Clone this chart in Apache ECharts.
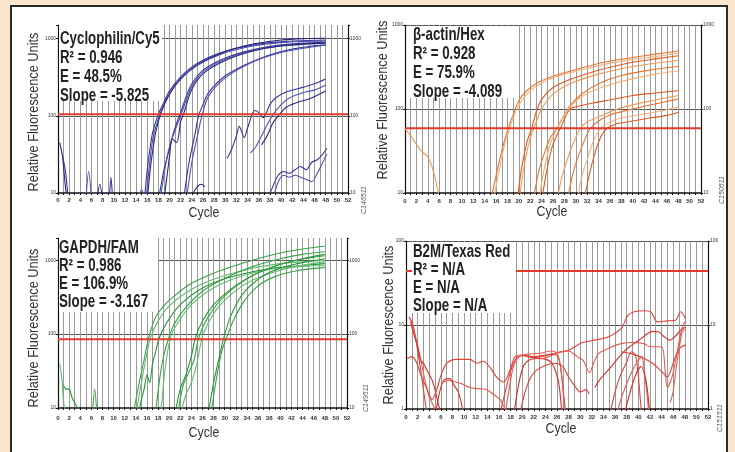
<!DOCTYPE html>
<html>
<head>
<meta charset="utf-8">
<script src="https://cdn.jsdelivr.net/npm/echarts@6/dist/echarts.min.js"></script>
<style>
  html, body { margin: 0; padding: 0; width: 735px; height: 452px; overflow: hidden; background: #fbe6d0; }
  .frame { position: absolute; left: 10px; top: 5px; width: 718px; height: 470px; box-sizing: border-box; border: 2px solid #2b2b2b; background: #fff; }
  #chart { position: absolute; left: 0; top: 0; width: 735px; height: 452px; }
</style>
</head>
<body>
<div class="frame"></div>
<div id="chart"></div>
<script>
// 每条曲线: [循环数, 相对荧光值]
const cyclophilinCurves = [
  [[15.5,8],[16,20],[16.5,38],[17,62],[18,105],[19,150],[20,210],[22,320],[25,480],[29,650],[35,830],[41,920],[48,960]],
  [[15.8,8],[16.3,20],[17,50],[18,92],[19,140],[20,195],[22,300],[25,450],[29,620],[35,800],[41,900],[48,930]],
  [[16,8],[16.6,22],[17.5,60],[18.5,110],[20,190],[22,300],[25,460],[30,680],[35,850],[40,960],[44,1000],[48,1010]],
  [[18,8],[19,20],[19.8,33],[20.7,60],[21.5,90],[22,110],[23,180],[24,260],[26,390],[30,560],[35,720],[40,830],[48,900]],
  [[18.3,8],[19.5,28],[20.2,45],[21,65],[22,100],[23,160],[24,240],[26,370],[30,540],[35,700],[40,810],[48,870]],
  [[19,8],[20,30],[20.5,50],[21.3,45],[22,85],[22.5,105],[24,220],[26,350],[30,520],[35,690],[40,800],[48,880]],
  [[22.5,8],[23.5,25],[24.5,55],[25.2,100],[26,140],[27,200],[30,330],[35,510],[40,680],[45,790],[48,830]],
  [[23,8],[24,25],[25,55],[25.8,100],[27,180],[30,310],[35,500],[40,660],[45,770],[48,820]],
  [[24,9],[24.6,11],[25.2,12.5],[25.8,13],[26.3,12]],
  [[30.3,28],[31,35],[32,55],[32.5,73],[33.4,52],[34,70],[35.3,117],[36,110],[36.8,95],[38,140],[39,170],[41,205],[44,235],[46,260],[48,300]],
  [[34.5,33],[35.5,40],[36.5,55],[38.3,97],[40,140],[41.5,170],[44,200],[46,215],[48,250]],
  [[36.5,42],[37.5,55],[38.5,80],[39.5,100],[41,130],[43,150],[45,165],[48,210]],
  [[37.5,8],[38.5,12],[39.5,17],[40.5,19],[41.5,18],[42.5,20],[43.5,22],[44.5,20],[45.5,25],[46.5,27],[47.5,32],[48.2,38]],
  [[38.5,8],[39.5,14],[40.5,17],[41.5,16],[42.5,17],[43.5,16],[44.5,15],[45.5,14],[46.5,18],[47.5,25],[48.2,32]],
  [[0.3,45],[0.8,30],[1.2,15],[1.6,8]],
  [[0.8,30],[1.3,20],[1.8,9]],
  [[5,8],[5.5,19],[6,8]],
  [[7,8],[7.5,13],[8,8]],
  [[9.2,8],[9.5,16],[9.8,8]],
  [[14.5,9],[15,11],[15.5,9]]
]

const actinCurves = [
  [[0,58],[1,48],[2,38],[3,31],[4,27],[5,18],[6,9]],
  [[15,8],[16,16],[17,32],[18,55],[19,85],[20,125],[21,155],[23,200],[26,245],[30,295],[35,360],[40,410],[44,450],[48,490]],
  [[15.5,8],[16.5,18],[17.5,38],[18.5,62],[19.5,95],[21,140],[23,185],[26,235],[30,280],[35,340],[40,390],[44,420],[48,460]],
  [[19.7,8],[20.5,20],[21.5,42],[22.3,60],[23,90],[24,130],[26,180],[29,225],[34,290],[40,360],[44,395],[48,430]],
  [[20,8],[21,22],[22,45],[23,68],[24,100],[26,150],[29,200],[34,260],[40,320],[44,350],[48,380]],
  [[22.5,8],[23.5,18],[24.5,30],[25.5,45],[26.7,59],[28,85],[29,110],[31,150],[34,200],[38,250],[43,290],[48,320]],
  [[23.5,8],[24.5,20],[25.5,38],[26.5,55],[27.5,75],[29,105],[31,140],[35,185],[40,230],[44,260],[48,285]],
  [[24,8],[25,20],[26,38],[27.3,59],[29,100],[31,110],[33,118],[36,128],[40,145],[44,155],[48,165]],
  [[26.7,8],[27.5,15],[28.5,25],[29.5,38],[30.8,59],[32,70],[34.4,83],[37,98],[40,112],[44,128],[48,145]],
  [[28.5,8],[29.5,17],[30.5,28],[31.5,42],[32.6,59],[34,72],[36,85],[40,100],[44,115],[48,131]],
  [[30.3,8],[31,15],[32,25],[33,40],[34.4,59],[36,70],[38,78],[41,85],[44,92],[48,105]],
  [[31.4,8],[32.5,18],[33.5,32],[34.5,48],[35.5,59],[37,66],[40,72],[43,78],[46,84],[48,91]]
]

const gapdhCurves = [
  [[13.5,8],[14.5,20],[15.5,45],[16.3,88],[17.5,166],[19,240],[20.5,307],[23.5,462],[27,620],[30,760],[35,1000],[40,1250],[44,1420],[48,1550]],
  [[14,8],[15,22],[16,55],[16.6,88],[18,150],[20,240],[23,360],[26,480],[30,620],[35,780],[40,900],[44,950],[48,1000]],
  [[14.5,8],[15,13],[15.5,18],[16,28],[16.5,22],[17,40],[17.5,55],[18.2,88],[19.5,140],[22,250],[26,420],[30,560],[35,700],[40,800],[44,850],[48,900]],
  [[17.5,8],[18.3,25],[19,50],[19.9,88],[21,140],[23,230],[26,380],[30,570],[35,820],[40,1050],[44,1200],[48,1300]],
  [[18.5,8],[19.2,30],[20.2,88],[21.5,140],[24,250],[27,380],[31,540],[36,700],[41,800],[48,850]],
  [[21,8],[22,18],[23,28],[24,50],[24.7,88],[26,150],[28,250],[31,400],[35,620],[40,880],[44,1050],[48,1200]],
  [[21.5,8],[22.5,20],[23.5,30],[24.5,45],[25.3,88],[27,170],[30,330],[34,560],[38,780],[43,1000],[48,1150]],
  [[22,8],[23,15],[24,22],[25,40],[25.9,88],[27,140],[29,240],[33,440],[37,620],[42,800],[48,950]],
  [[27,8],[28,22],[29,48],[29.8,88],[31,170],[33,330],[35,480],[38,680],[42,860],[48,1050]],
  [[27.5,8],[28.5,25],[29.5,60],[30.3,88],[31.5,150],[33.5,280],[36,450],[39,600],[43,720],[48,800]],
  [[0.3,40],[0.7,25],[1,12],[1.5,8]],
  [[1,20],[1.5,18],[2,18],[2.5,14],[3.5,10],[4,8]],
  [[6.2,8],[6.6,18],[7,8]]
]

const b2mCurves = [
  [[0.5,12.5],[1,11],[1.5,8],[2,5],[2.5,3],[3,1.7],[3.5,1.0],[4,0.7]],
  [[0.7,12],[1.2,9.5],[1.8,6.5],[2.5,4],[3.2,2.3],[4,1.4],[5,1.0],[5.5,0.8]],
  [[0.8,11],[1.3,8],[2,5.5],[2.5,3.8],[3,3.5],[3.5,3.0],[4.5,2.2],[5,1.7],[5.5,1.2],[6,0.9]],
  [[0.2,4],[1,4.2],[1.8,3.6],[2.5,2.6],[3.5,1.8],[4.5,1.3],[5.3,1.7],[6,2.5],[7,3.5],[8.7,3.9],[11,3.9],[12.2,3.5],[13.3,3.7],[14.5,3.1],[15.6,2.4],[16.8,2.1],[17.9,2.9],[18.8,4.2],[20,4.4],[22,4.2],[24,4.4],[25.7,4.6],[28,5.0],[30.2,6.1],[32.5,6.6],[34.8,7.2],[37.1,9.2],[38.2,13],[39.3,14.4],[41,14.8],[42.2,14.2],[43.3,10.9],[45,11.2],[46.4,11.4],[47.3,14.4],[48.1,12]],
  [[6.4,2.1],[7.5,2.2],[8.5,2.1],[9.6,2.0],[11,1.8],[12.5,1.75],[13.9,1.7],[15,1.5],[16.2,1.3],[17,1.0],[17.5,0.8]],
  [[5,0.8],[5.8,1.6],[6.5,2.2],[7.5,2.3],[8.3,1.9],[9,1.6],[9.5,1.2],[10,0.8]],
  [[16,0.8],[17,1.5],[18,2.8],[19,4.0],[20,4.3],[22,4.1],[24,4.3],[25.5,4.5],[26.3,4.0],[26.8,2.5],[27.3,1.2],[27.6,0.8]],
  [[17,0.8],[17.8,1.8],[18.5,3.2],[19.5,4.2],[21,4.5],[23,4.6],[25,4.9],[26,4.6],[26.6,3.2],[27,1.8],[27.3,0.8]],
  [[18.5,0.8],[19.3,1.8],[20.2,3.2],[21.5,3.9],[23,4.0],[25,3.6],[26.2,2.2],[26.8,1.0],[27,0.8]],
  [[19.5,0.8],[20.5,1.6],[21.5,2.4],[22.5,2.9],[24,3.3],[25.5,3.5],[27,3.2],[28,2.4],[29,1.9],[30,1.6],[31,1.7],[31.5,1.5]],
  [[23.5,4.0],[25,4.3],[26.5,4.8],[28,4.9],[29.5,4.2],[30.5,3.8],[31.6,2.7],[32.3,3.5],[33.2,4.6],[35.5,5.5],[37,6.0],[39,6.2],[41,6.0],[42,5.5],[44,5.5],[44.6,3.0],[45,1.8],[45.8,2.4],[46.5,4.0],[47.3,8],[48,11]],
  [[32.5,1.8],[33.5,2.3],[35,3.0],[36.5,4.0],[37.5,4.8],[38.5,5.5],[40,6.5],[41.5,7.8],[42.5,8.4],[43.5,8.3],[44.5,7.2],[45.4,6.6],[46.5,7.5],[47.3,8.7],[48.2,9.5]],
  [[35,0.8],[36,1.6],[37,2.6],[38,3.6],[38.8,4.8],[39.5,4.4],[40,2.5],[40.5,1.0],[40.8,0.8]],
  [[36.2,0.8],[37,1.3],[38,2.0],[39,2.9],[40,3.8],[40.6,4.2],[41,3.0],[41.5,1.5],[41.8,0.9]],
  [[37.5,0.8],[38.5,1.5],[39.5,2.5],[40.5,3.2],[41.3,2.2],[41.8,1.2],[42,0.8]],
  [[37.1,4.8],[39,4.5],[41,4.0],[42.5,3.5],[44,2.8],[45,2.4],[46,3.5],[47,5.2],[48.2,5.8]],
  [[45.5,1.2],[46,1.6],[46.5,3],[47,5],[47.5,8],[48,9]]
]

const thresholds = [105, 59, 85, 44]
const yRanges = [[10, 1500], [10, 1000], [10, 2000], [1, 100]]
const panelTitles = ['Cyclophilin/Cy5', 'β-actin/Hex', 'GAPDH/FAM', 'B2M/Texas Red']
const rSquared = ['0.946', '0.928', '0.986', 'N/A']
const efficiency = ['48.5%', '75.9%', '106.9%', 'N/A']
const slopes = ['-5.825', '-4.089', '-3.167', 'N/A']
const codes = ['C146511', 'C150511', 'C149511', 'C151511']
const xTitle = 'Cycle'
const yTitle = 'Relative Fluorescence Units'

// 版面与样式
const FONT = "'Liberation Sans', Arial, Helvetica, sans-serif"
const layout = [
  { left: 58, top: 25, width: 290, height: 168, lblMargin: 4, xName: [204, 213], yName: [34, 112], box: [59, 25, 103, 76], tx: 60, ty: 39, lh: 19, code: [364, 200] },
  { left: 405, top: 25, width: 296, height: 168, lblMargin: 5, xName: [552, 212], yName: [383, 100], box: [410, 26, 108, 72], tx: 413, ty: 35, lh: 19, code: [722, 190] },
  { left: 58, top: 238, width: 289, height: 170, lblMargin: 7, xName: [204, 433], yName: [34, 328], box: [59, 238, 99, 74], tx: 59, ty: 248, lh: 18, code: [366, 398] },
  { left: 406, top: 241, width: 302, height: 168, lblMargin: 5, xName: [561, 429], yName: [389, 325], box: [412, 242, 104, 71], tx: 413, ty: 252, lh: 18, code: [720, 418] }
]
const palettes = [
  ['#34349a', '#5050b2', '#28287f'],
  ['#f29a52', '#e8742e', '#f5b07a', '#e05a1e'],
  ['#36a445', '#62bc70', '#279636'],
  ['#e3403a', '#ea5a50', '#d62e28']
]
const allCurves = [cyclophilinCurves, actinCurves, gapdhCurves, b2mCurves]

const myChart = echarts.init(document.getElementById('chart'))

const isPow10 = (v) => {
  const l = Math.log10(v)
  return Math.abs(l - Math.round(l)) < 1e-6
}

// 压窄的文字（没有窄体字体，用 scaleX 代替）
const narrowText = (text, x, y, size, opts) => Object.assign({
  type: 'text', z: 51, silent: true, x: x, y: y, scaleX: 0.82,
  style: {
    text: text, fill: '#222', fontSize: size, fontFamily: FONT,
    align: 'left', verticalAlign: 'middle', textAlign: 'left', textVerticalAlign: 'middle'
  }
}, opts || {})

const grids = [], xAxes = [], yAxes = [], series = [], graphics = []

layout.forEach((p, i) => {
  grids.push({ left: p.left, top: p.top, width: p.width, height: p.height, containLabel: false, outerBoundsMode: 'none' })

  xAxes.push({
    type: 'value', gridIndex: i, min: 0, max: 52, interval: 2,
    axisLine: { show: true, onZero: false, lineStyle: { color: '#111', width: 1.5 } },
    axisTick: { show: true, length: 2, lineStyle: { color: '#111' } },
    minorTick: { show: true, splitNumber: 2, length: 2, lineStyle: { color: '#111' } },
    axisLabel: { fontSize: 6, fontWeight: 'bold', color: '#333', margin: p.lblMargin, fontFamily: FONT },
    splitLine: { show: true, lineStyle: { color: '#9a9a9a', width: 1 } },
    minorSplitLine: { show: true, lineStyle: { color: '#9a9a9a', width: 1 } }
  })

  const [yMin, yMax] = yRanges[i]
  const common = {
    type: 'log', logBase: 10, gridIndex: i, min: yMin, max: yMax,
    axisLine: { show: true, lineStyle: { color: '#111', width: 1.2 } },
    axisTick: { show: true, length: 2, lineStyle: { color: '#111' } },
    axisLabel: {
      fontSize: 5, color: '#333', margin: 2, fontFamily: FONT,
      formatter: (v) => (isPow10(v) ? String(Math.round(v)) : '')
    }
  }
  yAxes.push(Object.assign({}, common, {
    position: 'left',
    splitLine: { show: true, showMinLine: false, showMaxLine: isPow10(yMax), lineStyle: { color: '#555', width: 1 } }
  }))
  yAxes.push(Object.assign({}, common, {
    position: 'right',
    splitLine: { show: false }
  }))

  const pal = palettes[i]
  allCurves[i].forEach((pts, k) => {
    series.push({
      type: 'line', xAxisIndex: i, yAxisIndex: 2 * i, data: pts,
      showSymbol: false, smooth: 0.3, silent: true, clip: true, z: 3,
      lineStyle: { width: 1.1, color: pal[k % pal.length] }
    })
  })
  // 阈值线
  series.push({
    type: 'line', xAxisIndex: i, yAxisIndex: 2 * i,
    data: [[0, thresholds[i]], [52, thresholds[i]]],
    showSymbol: false, silent: true, z: 4,
    lineStyle: { width: 2, color: '#e23b2c' }
  })

  // 左上角说明框
  graphics.push({
    type: 'rect', z: 50, silent: true,
    shape: { x: p.box[0], y: p.box[1], width: p.box[2], height: p.box[3] },
    style: { fill: '#fff' }
  })
  const lines = [panelTitles[i], 'R² = ' + rSquared[i], 'E = ' + efficiency[i], 'Slope = ' + slopes[i]]
  lines.forEach((t, k) => {
    const el = narrowText(t, p.tx, p.ty + k * p.lh, 17.5, { scaleX: 0.76 })
    el.style.fontWeight = 'bold'
    graphics.push(el)
  })

  // 坐标轴标题
  const xt = narrowText(xTitle, p.xName[0], p.xName[1], 14, { scaleX: 0.88 })
  xt.style.align = xt.style.textAlign = 'center'
  xt.style.fill = '#333'
  graphics.push(xt)
  const yt = narrowText(yTitle, p.yName[0], p.yName[1], 14.5, { scaleX: 0.88, rotation: Math.PI / 2 })
  yt.style.align = yt.style.textAlign = 'center'
  yt.style.fill = '#333'
  graphics.push(yt)

  graphics.push({
    type: 'text', z: 51, silent: true, x: p.code[0], y: p.code[1], rotation: Math.PI / 2,
    style: { text: codes[i], fill: '#555', fontSize: 7, fontStyle: 'italic', fontFamily: FONT, align: 'center', verticalAlign: 'middle', textAlign: 'center', textVerticalAlign: 'middle' }
  })
})

myChart.setOption({
  backgroundColor: 'transparent',
  animation: false,
  grid: grids,
  xAxis: xAxes,
  yAxis: yAxes,
  series: series,
  graphic: { elements: graphics }
})
</script>
</body>
</html>
